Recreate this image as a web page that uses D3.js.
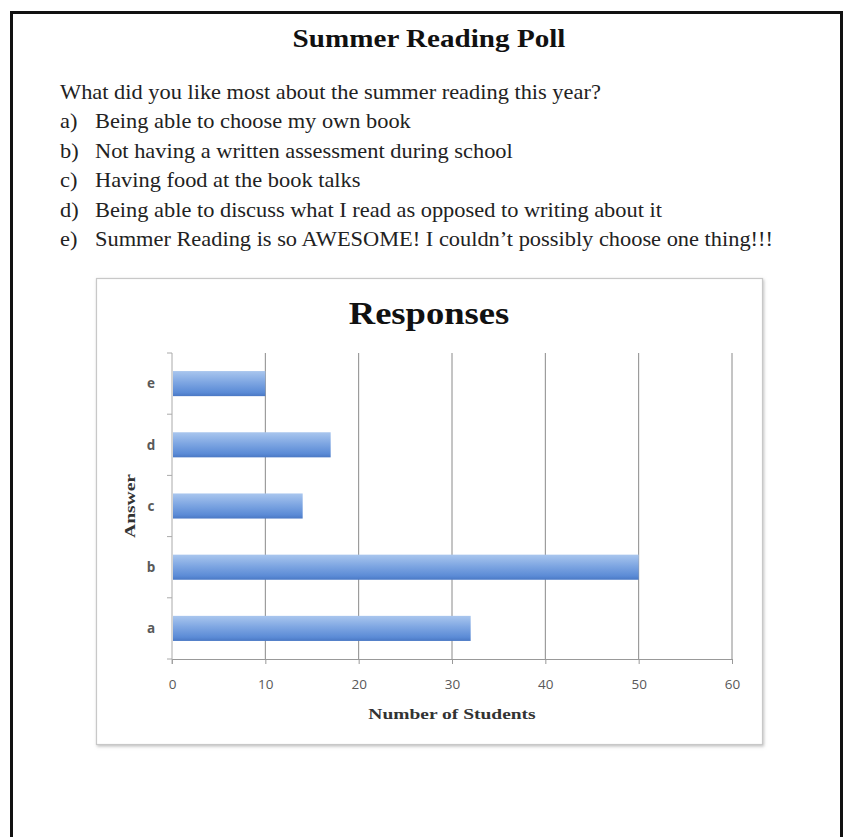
<!DOCTYPE html>
<html>
<head>
<meta charset="utf-8">
<title>Summer Reading Poll</title>
<style type="text/css">
	body {
		margin: 0;
		background: white;
	}

	.serif {
		font-family: "Liberation Serif", "Times New Roman", serif;
	}

	.tickText {
		font-family: "Open Sans", "Liberation Sans", sans-serif;
		font-size: 13.5px;
		fill: #595959;
	}
</style>
</head>
<body>

<svg id='page' width='848' height='837'></svg>

<script src="https://cdn.jsdelivr.net/npm/d3@7/dist/d3.min.js" charset="utf-8"></script>
<script>

var pageTitle = 'Summer Reading Poll';
var question = 'What did you like most about the summer reading this year?';
var optionKeys = ['a)', 'b)', 'c)', 'd)', 'e)'];
var optionTexts = ['Being able to choose my own book',
	'Not having a written assessment during school',
	'Having food at the book talks',
	'Being able to discuss what I read as opposed to writing about it',
	'Summer Reading is so AWESOME! I couldn\u2019t possibly  choose one thing!!!'];

var answers = ['a', 'b', 'c', 'd', 'e'];
var students = [32, 50, 14, 17, 10];
var xTicks = [0, 10, 20, 30, 40, 50, 60];

var svg = d3.select('#page');

// the scan is a little stretched sideways
var stretch = 1.12;

// page border (bottom runs off the picture)
svg.append('rect')
	.attr('x', 11.5)
	.attr('y', 12.5)
	.attr('width', 830)
	.attr('height', 900)
	.attr('fill', 'white')
	.attr('stroke', '#111')
	.attr('stroke-width', 3);

svg.append('g')
	.attr('transform', 'translate (429,47) scale(' + stretch + ',1)')
	.append('text')
	.classed('serif', true)
	.attr('text-anchor', 'middle')
	.attr('font-size', 26)
	.attr('font-weight', 'bold')
	.attr('fill', '#111')
	.text(pageTitle);

var textBlock = svg.append('g')
	.attr('transform', 'translate (60,0) scale(' + stretch + ',1)');

textBlock.append('text')
	.classed('serif', true)
	.attr('y', 99)
	.attr('font-size', 20)
	.attr('fill', '#222')
	.text(question);

var lineStep = 29.5;

var opts = textBlock.selectAll('.option')
	.data(optionTexts)
	.enter()
	.append('g')
	.classed('option', true)
	.attr('transform', function(d, i) {return 'translate (0,' + (128 + i * lineStep) + ')'});

opts.append('text')
	.classed('serif', true)
	.attr('x', 0)
	.attr('font-size', 20)
	.attr('fill', '#222')
	.text(function(d, i) {return optionKeys[i]});

opts.append('text')
	.classed('serif', true)
	.attr('x', 35 / stretch)
	.attr('font-size', 20)
	.attr('fill', '#222')
	.text(function(d) {return d});

// chart box
var defs = svg.append('defs');

var shadow = defs.append('filter').attr('id', 'shadow')
	.attr('x', '-5%').attr('y', '-5%').attr('width', '110%').attr('height', '110%');
shadow.append('feDropShadow')
	.attr('dx', 1).attr('dy', 1.5).attr('stdDeviation', 1.5)
	.attr('flood-color', '#999').attr('flood-opacity', 0.6);

var grad = defs.append('linearGradient').attr('id', 'barGrad')
	.attr('x1', 0).attr('y1', 0).attr('x2', 0).attr('y2', 1);
grad.append('stop').attr('offset', '0%').attr('stop-color', '#a9c6ee');
grad.append('stop').attr('offset', '45%').attr('stop-color', '#7ea6e2');
grad.append('stop').attr('offset', '85%').attr('stop-color', '#5b8bd6');
grad.append('stop').attr('offset', '100%').attr('stop-color', '#4a78c4');

svg.append('rect')
	.attr('x', 96.5)
	.attr('y', 278.5)
	.attr('width', 666)
	.attr('height', 466)
	.attr('fill', 'white')
	.attr('stroke', '#c8c8c8')
	.attr('stroke-width', 1.2)
	.attr('filter', 'url(#shadow)');

svg.append('g')
	.attr('transform', 'translate (429,324) scale(1.18,1)')
	.append('text')
	.classed('serif', true)
	.attr('text-anchor', 'middle')
	.attr('font-size', 31)
	.attr('font-weight', 'bold')
	.attr('fill', '#111')
	.text('Responses');

var margin = {left: 172, top: 353, right: 732, bottom: 659};

var x = d3.scaleLinear()
	.domain([0, 60])
	.range([margin.left, margin.right]);

var y = d3.scaleBand()
	.domain(answers.slice().reverse())
	.range([margin.top, margin.bottom])
	.paddingInner(0.59)
	.paddingOuter(0.295);

// gridlines
svg.append('g')
	.selectAll('line')
	.data(xTicks.slice(1))
	.enter()
	.append('line')
	.attr('x1', function(d) {return x(d)})
	.attr('x2', function(d) {return x(d)})
	.attr('y1', margin.top)
	.attr('y2', margin.bottom)
	.attr('stroke', '#8a8a8a')
	.attr('stroke-width', 1);

// bars
svg.append('g')
	.selectAll('rect')
	.data(answers)
	.enter()
	.append('rect')
	.attr('x', x(0) + 1)
	.attr('y', function(d) {return y(d)})
	.attr('width', function(d, i) {return x(students[i]) - x(0) - 1})
	.attr('height', y.bandwidth())
	.attr('fill', 'url(#barGrad)');

// x axis
var xAxis = svg.append('g')
	.attr('transform', 'translate (0,' + margin.bottom + ')')
	.call(d3.axisBottom(x).tickValues(xTicks).tickSize(5).tickPadding(15));

xAxis.select('.domain').attr('stroke', '#999');
xAxis.selectAll('.tick line').attr('stroke', '#999');
xAxis.selectAll('.tick text').attr('class', 'tickText');

// y axis, ticks on band edges
var yAxis = svg.append('g')
	.attr('transform', 'translate (' + margin.left + ',0)');

yAxis.append('line')
	.attr('x1', 0).attr('x2', 0)
	.attr('y1', margin.top).attr('y2', margin.bottom + 5)
	.attr('stroke', '#aaa');

yAxis.selectAll('.edge')
	.data(d3.range(answers.length + 1))
	.enter()
	.append('line')
	.attr('x1', -5).attr('x2', 0)
	.attr('y1', function(d) {return margin.top + d * (margin.bottom - margin.top) / answers.length})
	.attr('y2', function(d) {return margin.top + d * (margin.bottom - margin.top) / answers.length})
	.attr('stroke', '#aaa');

yAxis.selectAll('.ylab')
	.data(answers)
	.enter()
	.append('text')
	.attr('class', 'tickText')
	.attr('x', -21)
	.attr('y', function(d) {return y(d) + y.bandwidth() / 2})
	.attr('dy', '0.35em')
	.attr('text-anchor', 'middle')
	.style('font-weight', 'bold')
	.text(function(d) {return d});

svg.append('g')
	.attr('transform', 'translate (' + (margin.left + margin.right) / 2 + ',719) scale(1.3,1)')
	.append('text')
	.classed('serif', true)
	.attr('text-anchor', 'middle')
	.attr('font-size', 15)
	.attr('font-weight', 'bold')
	.attr('fill', '#333')
	.text('Number of Students');

svg.append('g')
	.attr('transform', 'translate (135,' + (margin.top + margin.bottom) / 2 + ') rotate(-90) scale(1.3,1)')
	.append('text')
	.classed('serif', true)
	.attr('text-anchor', 'middle')
	.attr('font-size', 15)
	.attr('font-weight', 'bold')
	.attr('fill', '#333')
	.text('Answer');

</script>

</body>
</html>
